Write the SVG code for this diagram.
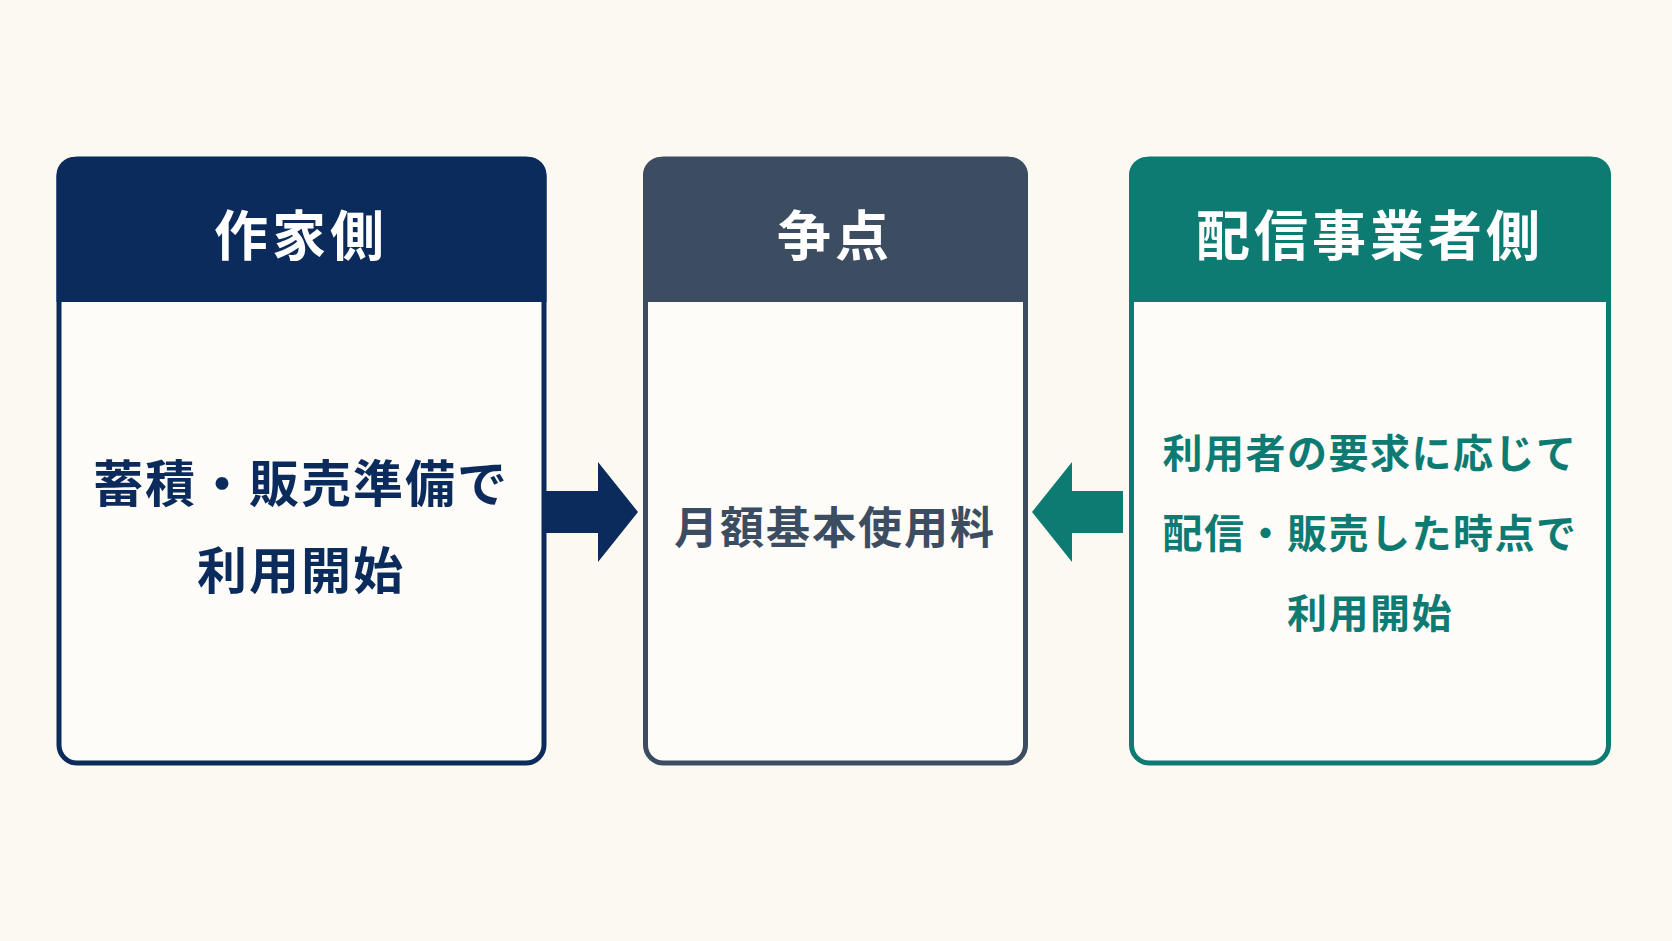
<svg xmlns="http://www.w3.org/2000/svg" width="1672" height="941" viewBox="0 0 1672 941">
<style>
text{font-family:"Noto Sans CJK JP","Noto Sans CJK SC",sans-serif;font-weight:700;text-anchor:middle;dominant-baseline:central}
.h{font-size:54px;fill:#fff;letter-spacing:4px}
.bl{font-size:50px;letter-spacing:2px}
.bm{font-size:44px;letter-spacing:2px}
.br{font-size:40px;letter-spacing:1.5px}
</style>
<rect width="1672" height="941" fill="#fcf9f3"/>
<g id="left">
<rect x="59" y="159" width="485" height="604" rx="18" fill="#fefcf8" stroke="#0b2b5c" stroke-width="5"/>
<path d="M56.5 302V175a18 18 0 0 1 18-18h454a18 18 0 0 1 18 18v127z" fill="#0b2b5c"/>
<text class="h" x="301" y="232">作家側</text>
<text class="bl" x="301" y="480" fill="#0b2b5c">蓄積・販売準備で</text>
<text class="bl" x="301" y="567" fill="#0b2b5c">利用開始</text>
</g>
<g id="middle">
<rect x="645.5" y="159" width="380" height="604" rx="18" fill="#fefcf8" stroke="#3c4d62" stroke-width="5"/>
<path d="M643 302V175a18 18 0 0 1 18-18h349a18 18 0 0 1 18 18v127z" fill="#3c4d62"/>
<text class="h" x="835" y="232">争点</text>
<text class="bm" x="835" y="525" fill="#3c4d62">月額基本使用料</text>
</g>
<g id="right">
<rect x="1131.5" y="159" width="477" height="604" rx="18" fill="#fefcf8" stroke="#0e7b73" stroke-width="5"/>
<path d="M1129 302V175a18 18 0 0 1 18-18h446a18 18 0 0 1 18 18v127z" fill="#0e7b73"/>
<text class="h" x="1370" y="232">配信事業者側</text>
<text class="br" x="1370" y="451" fill="#0e7b73">利用者の要求に応じて</text>
<text class="br" x="1370" y="531" fill="#0e7b73">配信・販売した時点で</text>
<text class="br" x="1370" y="611" fill="#0e7b73">利用開始</text>
</g>
<g id="connectors">
<path d="M546 491H598V462L638 512L598 562V533H546z" fill="#0b2b5c"/>
<path d="M1123 491H1072V462L1032 512L1072 562V533H1123z" fill="#0e7b73"/>
</g>
</svg>
